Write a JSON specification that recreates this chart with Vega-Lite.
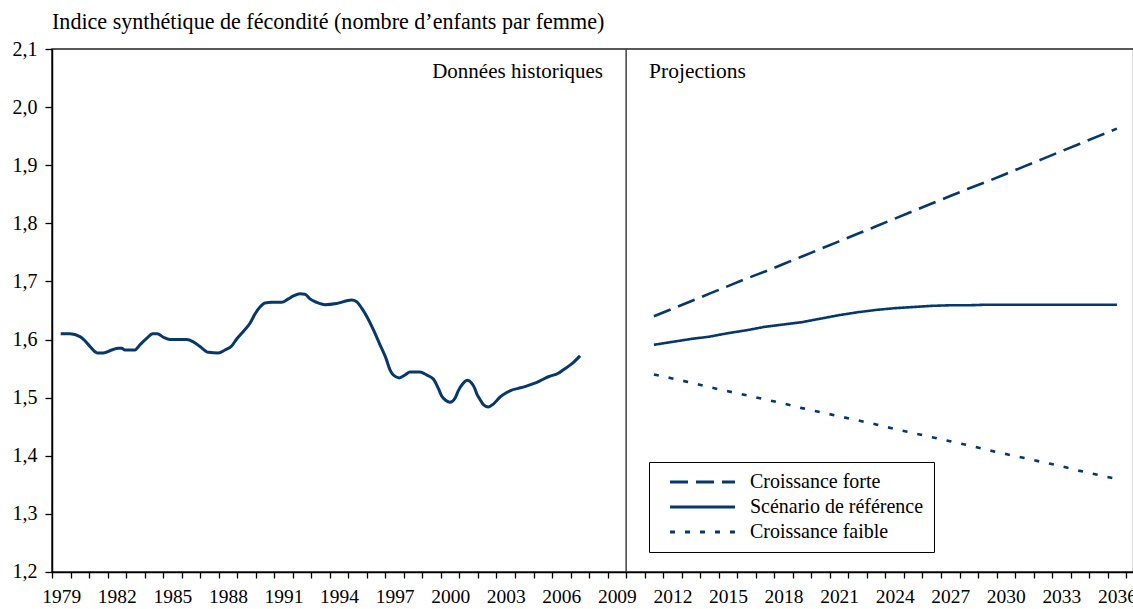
{
  "$schema": "https://vega.github.io/schema/vega-lite/v6.json",
  "autosize": {"type": "none"},
  "padding": {"left": 52, "top": 49, "right": 0, "bottom": 37},
  "width": 1081.6,
  "height": 523,
  "background": "white",
  "title": {
    "text": "Indice synthétique de fécondité (nombre d’enfants par femme)",
    "anchor": "start",
    "frame": "group",
    "orient": "top",
    "font": "Liberation Serif",
    "fontSize": 22.1,
    "fontWeight": "normal",
    "color": "#000000",
    "baseline": "alphabetic",
    "offset": -12
  },
  "config": {
    "font": "Liberation Serif",
    "view": {"stroke": "#222222", "strokeWidth": 1.5},
    "axis": {
      "domainColor": "#000000",
      "domainWidth": 1.5,
      "tickColor": "#000000",
      "tickWidth": 1.3,
      "labelColor": "#000000",
      "labelFont": "Liberation Serif",
      "grid": false,
      "title": null
    }
  },
  "datasets": {
    "historique": [
      {"year": 1979.47, "isf": 1.610}, {"year": 1979.97, "isf": 1.610}, {"year": 1980.51, "isf": 1.605},
      {"year": 1980.78, "isf": 1.598}, {"year": 1981.05, "isf": 1.588}, {"year": 1981.45, "isf": 1.577},
      {"year": 1981.77, "isf": 1.577}, {"year": 1982.22, "isf": 1.582}, {"year": 1982.58, "isf": 1.585},
      {"year": 1982.76, "isf": 1.585}, {"year": 1982.94, "isf": 1.582}, {"year": 1983.48, "isf": 1.582},
      {"year": 1983.75, "isf": 1.591}, {"year": 1984.11, "isf": 1.602}, {"year": 1984.44, "isf": 1.610},
      {"year": 1984.69, "isf": 1.610}, {"year": 1985.01, "isf": 1.604}, {"year": 1985.37, "isf": 1.600},
      {"year": 1985.73, "isf": 1.600}, {"year": 1986.27, "isf": 1.600}, {"year": 1986.63, "isf": 1.596},
      {"year": 1986.99, "isf": 1.588}, {"year": 1987.44, "isf": 1.578}, {"year": 1987.98, "isf": 1.577},
      {"year": 1988.34, "isf": 1.582}, {"year": 1988.70, "isf": 1.589}, {"year": 1988.97, "isf": 1.601},
      {"year": 1989.33, "isf": 1.614}, {"year": 1989.69, "isf": 1.628}, {"year": 1989.96, "isf": 1.644},
      {"year": 1990.23, "isf": 1.656}, {"year": 1990.50, "isf": 1.663}, {"year": 1990.86, "isf": 1.664},
      {"year": 1991.40, "isf": 1.664}, {"year": 1991.76, "isf": 1.670}, {"year": 1992.03, "isf": 1.675},
      {"year": 1992.39, "isf": 1.679}, {"year": 1992.66, "isf": 1.678}, {"year": 1992.93, "isf": 1.670},
      {"year": 1993.29, "isf": 1.664}, {"year": 1993.74, "isf": 1.660}, {"year": 1994.37, "isf": 1.662},
      {"year": 1995.18, "isf": 1.668}, {"year": 1995.45, "isf": 1.665}, {"year": 1995.72, "isf": 1.654},
      {"year": 1995.99, "isf": 1.640}, {"year": 1996.35, "isf": 1.617}, {"year": 1996.71, "isf": 1.591},
      {"year": 1997.03, "isf": 1.568}, {"year": 1997.25, "isf": 1.548}, {"year": 1997.43, "isf": 1.539},
      {"year": 1997.75, "isf": 1.534}, {"year": 1998.06, "isf": 1.539}, {"year": 1998.33, "isf": 1.544},
      {"year": 1998.87, "isf": 1.544}, {"year": 1999.23, "isf": 1.539}, {"year": 1999.59, "isf": 1.532},
      {"year": 1999.86, "isf": 1.516}, {"year": 2000.04, "isf": 1.503}, {"year": 2000.27, "isf": 1.495},
      {"year": 2000.49, "isf": 1.492}, {"year": 2000.76, "isf": 1.499}, {"year": 2000.94, "isf": 1.512},
      {"year": 2001.18, "isf": 1.524}, {"year": 2001.42, "isf": 1.530}, {"year": 2001.66, "isf": 1.525},
      {"year": 2001.84, "isf": 1.515}, {"year": 2001.93, "isf": 1.507}, {"year": 2002.11, "isf": 1.497},
      {"year": 2002.29, "isf": 1.488}, {"year": 2002.56, "isf": 1.484}, {"year": 2002.83, "isf": 1.489},
      {"year": 2003.19, "isf": 1.501}, {"year": 2003.55, "isf": 1.509}, {"year": 2003.82, "isf": 1.513},
      {"year": 2004.18, "isf": 1.516}, {"year": 2004.54, "isf": 1.519}, {"year": 2004.99, "isf": 1.524},
      {"year": 2005.35, "isf": 1.529}, {"year": 2005.80, "isf": 1.536}, {"year": 2006.34, "isf": 1.542},
      {"year": 2006.61, "isf": 1.548}, {"year": 2007.06, "isf": 1.558}, {"year": 2007.51, "isf": 1.572}
    ],
    "projections": [
      {"year": 2011.5, "scenario": "Croissance forte", "isf": 1.640},
      {"year": 2012.5, "scenario": "Croissance forte", "isf": 1.653},
      {"year": 2013.5, "scenario": "Croissance forte", "isf": 1.666},
      {"year": 2014.5, "scenario": "Croissance forte", "isf": 1.679},
      {"year": 2015.5, "scenario": "Croissance forte", "isf": 1.692},
      {"year": 2016.5, "scenario": "Croissance forte", "isf": 1.705},
      {"year": 2017.5, "scenario": "Croissance forte", "isf": 1.717},
      {"year": 2018.5, "scenario": "Croissance forte", "isf": 1.730},
      {"year": 2019.5, "scenario": "Croissance forte", "isf": 1.743},
      {"year": 2020.5, "scenario": "Croissance forte", "isf": 1.756},
      {"year": 2021.5, "scenario": "Croissance forte", "isf": 1.769},
      {"year": 2022.5, "scenario": "Croissance forte", "isf": 1.782},
      {"year": 2023.5, "scenario": "Croissance forte", "isf": 1.795},
      {"year": 2024.5, "scenario": "Croissance forte", "isf": 1.808},
      {"year": 2025.5, "scenario": "Croissance forte", "isf": 1.821},
      {"year": 2026.5, "scenario": "Croissance forte", "isf": 1.834},
      {"year": 2027.5, "scenario": "Croissance forte", "isf": 1.847},
      {"year": 2028.5, "scenario": "Croissance forte", "isf": 1.860},
      {"year": 2029.5, "scenario": "Croissance forte", "isf": 1.872},
      {"year": 2030.5, "scenario": "Croissance forte", "isf": 1.885},
      {"year": 2031.5, "scenario": "Croissance forte", "isf": 1.898},
      {"year": 2032.5, "scenario": "Croissance forte", "isf": 1.911},
      {"year": 2033.5, "scenario": "Croissance forte", "isf": 1.924},
      {"year": 2034.5, "scenario": "Croissance forte", "isf": 1.937},
      {"year": 2035.5, "scenario": "Croissance forte", "isf": 1.950},
      {"year": 2036.5, "scenario": "Croissance forte", "isf": 1.963},
      {"year": 2011.5, "scenario": "Scénario de référence", "isf": 1.591},
      {"year": 2012.5, "scenario": "Scénario de référence", "isf": 1.596},
      {"year": 2013.5, "scenario": "Scénario de référence", "isf": 1.601},
      {"year": 2014.5, "scenario": "Scénario de référence", "isf": 1.605},
      {"year": 2015.5, "scenario": "Scénario de référence", "isf": 1.611},
      {"year": 2016.5, "scenario": "Scénario de référence", "isf": 1.616},
      {"year": 2017.5, "scenario": "Scénario de référence", "isf": 1.622},
      {"year": 2018.5, "scenario": "Scénario de référence", "isf": 1.626},
      {"year": 2019.5, "scenario": "Scénario de référence", "isf": 1.630},
      {"year": 2020.5, "scenario": "Scénario de référence", "isf": 1.636},
      {"year": 2021.5, "scenario": "Scénario de référence", "isf": 1.642},
      {"year": 2022.5, "scenario": "Scénario de référence", "isf": 1.647},
      {"year": 2023.5, "scenario": "Scénario de référence", "isf": 1.651},
      {"year": 2024.5, "scenario": "Scénario de référence", "isf": 1.654},
      {"year": 2025.5, "scenario": "Scénario de référence", "isf": 1.656},
      {"year": 2026.5, "scenario": "Scénario de référence", "isf": 1.658},
      {"year": 2027.5, "scenario": "Scénario de référence", "isf": 1.659},
      {"year": 2028.5, "scenario": "Scénario de référence", "isf": 1.659},
      {"year": 2029.5, "scenario": "Scénario de référence", "isf": 1.660},
      {"year": 2030.5, "scenario": "Scénario de référence", "isf": 1.660},
      {"year": 2031.5, "scenario": "Scénario de référence", "isf": 1.660},
      {"year": 2032.5, "scenario": "Scénario de référence", "isf": 1.660},
      {"year": 2033.5, "scenario": "Scénario de référence", "isf": 1.660},
      {"year": 2034.5, "scenario": "Scénario de référence", "isf": 1.660},
      {"year": 2035.5, "scenario": "Scénario de référence", "isf": 1.660},
      {"year": 2036.5, "scenario": "Scénario de référence", "isf": 1.660},
      {"year": 2011.5, "scenario": "Croissance faible", "isf": 1.540},
      {"year": 2012.5, "scenario": "Croissance faible", "isf": 1.533},
      {"year": 2013.5, "scenario": "Croissance faible", "isf": 1.526},
      {"year": 2014.5, "scenario": "Croissance faible", "isf": 1.518},
      {"year": 2015.5, "scenario": "Croissance faible", "isf": 1.511},
      {"year": 2016.5, "scenario": "Croissance faible", "isf": 1.504},
      {"year": 2017.5, "scenario": "Croissance faible", "isf": 1.497},
      {"year": 2018.5, "scenario": "Croissance faible", "isf": 1.490},
      {"year": 2019.5, "scenario": "Croissance faible", "isf": 1.482},
      {"year": 2020.5, "scenario": "Croissance faible", "isf": 1.475},
      {"year": 2021.5, "scenario": "Croissance faible", "isf": 1.468},
      {"year": 2022.5, "scenario": "Croissance faible", "isf": 1.461},
      {"year": 2023.5, "scenario": "Croissance faible", "isf": 1.454},
      {"year": 2024.5, "scenario": "Croissance faible", "isf": 1.446},
      {"year": 2025.5, "scenario": "Croissance faible", "isf": 1.439},
      {"year": 2026.5, "scenario": "Croissance faible", "isf": 1.432},
      {"year": 2027.5, "scenario": "Croissance faible", "isf": 1.425},
      {"year": 2028.5, "scenario": "Croissance faible", "isf": 1.418},
      {"year": 2029.5, "scenario": "Croissance faible", "isf": 1.410},
      {"year": 2030.5, "scenario": "Croissance faible", "isf": 1.403},
      {"year": 2031.5, "scenario": "Croissance faible", "isf": 1.396},
      {"year": 2032.5, "scenario": "Croissance faible", "isf": 1.389},
      {"year": 2033.5, "scenario": "Croissance faible", "isf": 1.382},
      {"year": 2034.5, "scenario": "Croissance faible", "isf": 1.374},
      {"year": 2035.5, "scenario": "Croissance faible", "isf": 1.367},
      {"year": 2036.5, "scenario": "Croissance faible", "isf": 1.360}
    ],
    "separateur": [{"year": 2010}],
    "annotation_gauche": [{"year": 2008.75, "isf": 2.05, "texte": "Données historiques"}],
    "annotation_droite": [{"year": 2011.24, "isf": 2.05, "texte": "Projections"}]
  },
  "layer": [
    {
      "data": {"name": "separateur"},
      "mark": {"type": "rule", "color": "#404040", "strokeWidth": 1.5},
      "encoding": {
        "x": {
          "field": "year", "type": "quantitative",
          "scale": {"domain": [1979, 2037.4], "zero": false, "nice": false},
          "axis": {
            "values": [1979,1980,1981,1982,1983,1984,1985,1986,1987,1988,1989,1990,1991,1992,1993,1994,1995,1996,1997,1998,1999,2000,2001,2002,2003,2004,2005,2006,2007,2008,2009,2010,2011,2012,2013,2014,2015,2016,2017,2018,2019,2020,2021,2022,2023,2024,2025,2026,2027,2028,2029,2030,2031,2032,2033,2034,2035,2036,2037],
            "tickCount": 200,
            "labelExpr": "((datum.value - 1979) % 3 == 0 && datum.value <= 2036) ? ('' + datum.value) : ''",
            "labelOffset": 9.26,
            "labelFlush": false,
            "labelOverlap": false,
            "labelFontSize": 19.5,
            "labelPadding": 10,
            "tickSize": 6
          }
        }
      }
    },
    {
      "data": {"name": "historique"},
      "mark": {"type": "line", "color": "#06386b", "strokeWidth": 3, "interpolate": "monotone"},
      "encoding": {
        "x": {"field": "year", "type": "quantitative"},
        "y": {
          "field": "isf", "type": "quantitative",
          "scale": {"domain": [1.2, 2.1], "zero": false, "nice": false},
          "axis": {
            "values": [1.2, 1.3, 1.4, 1.5, 1.6, 1.7, 1.8, 1.9, 2.0, 2.1],
            "tickCount": 50,
            "labelExpr": "replace(format(datum.value, '.1f'), '.', ',')",
            "labelFontSize": 20,
            "labelPadding": 8,
            "tickSize": 7
          }
        }
      }
    },
    {
      "data": {"name": "projections"},
      "mark": {"type": "line", "color": "#06386b", "strokeWidth": 2.6},
      "encoding": {
        "x": {"field": "year", "type": "quantitative"},
        "y": {"field": "isf", "type": "quantitative"},
        "strokeDash": {
          "field": "scenario", "type": "nominal",
          "scale": {
            "domain": ["Croissance forte", "Scénario de référence", "Croissance faible"],
            "range": [[18, 8], [1, 0], [5, 10]]
          },
          "legend": {
            "title": null,
            "orient": "none",
            "legendX": 597,
            "legendY": 413,
            "padding": 10,
            "strokeColor": "#000000",
            "fillColor": "#ffffff",
            "symbolType": "M0.125,0H8.25",
            "symbolSize": 256,
            "symbolStrokeWidth": 3,
            "symbolStrokeColor": "#06386b",
            "symbolFillColor": "transparent",
            "labelOffset": 71,
            "labelFontSize": 20,
            "labelFont": "Liberation Serif",
            "labelColor": "#000000",
            "labelLimit": 300,
            "rowPadding": 5,
            "encode": {
              "symbols": {
                "update": {
                  "strokeDash": {"signal": "datum.value === 'Croissance faible' ? [2, 2] : (datum.value === 'Croissance forte' ? [18, 8] : [1, 0])"}
                }
              }
            }
          }
        }
      }
    },
    {
      "data": {"name": "annotation_gauche"},
      "mark": {"type": "text", "fontSize": 21, "font": "Liberation Serif", "color": "#000000", "baseline": "alphabetic", "align": "right"},
      "encoding": {
        "x": {"field": "year", "type": "quantitative"},
        "y": {"field": "isf", "type": "quantitative"},
        "text": {"field": "texte"}
      }
    },
    {
      "data": {"name": "annotation_droite"},
      "mark": {"type": "text", "fontSize": 21.5, "font": "Liberation Serif", "color": "#000000", "baseline": "alphabetic", "align": "left"},
      "encoding": {
        "x": {"field": "year", "type": "quantitative"},
        "y": {"field": "isf", "type": "quantitative"},
        "text": {"field": "texte"}
      }
    }
  ]
}
